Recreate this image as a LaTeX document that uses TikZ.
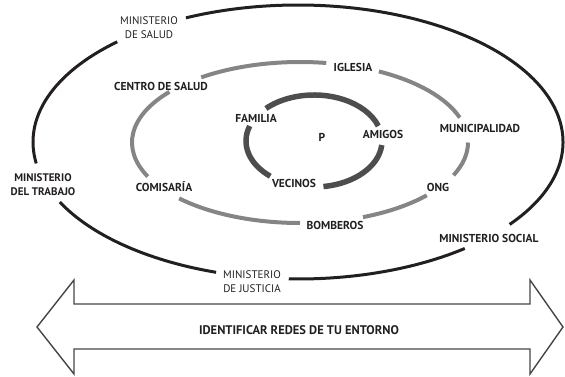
\documentclass[tikz,border=0pt]{standalone}
\usepackage{fontspec}
\setmainfont{PT Sans}
\usepackage{tikz}
\usetikzlibrary{calc,positioning}
\definecolor{ringOuter}{HTML}{231F20}
\definecolor{ringMiddle}{HTML}{858585}
\definecolor{ringInner}{HTML}{4D4D4F}
\definecolor{arrowLine}{HTML}{454545}
\tikzset{
myOuter/.style={
	draw=ringOuter, line width=3pt
}
, myMiddle/.style={
	draw=ringMiddle, line width=4pt
}
, myInner/.style={
	draw=ringInner, line width=5.5pt
}
% labels
, myMinistry/.style={
	inner sep=0pt, text=ringOuter, align=center,
	font=\fontsize{11}{14.5}\selectfont
}
, myLabel/.style={
	inner sep=0pt, text=ringOuter,
	text height=8pt, text depth=0pt,
	font=\fontsize{11.5}{14}\selectfont\bfseries
}
, myBanner/.style={
	draw=arrowLine, line width=1.4pt, line join=miter
}
}

\begin{document}
\begin{tikzpicture}[x=1pt,y=1pt]
	\useasboundingbox (0,0) rectangle (565,376);
	% centres
	\coordinate (Outer)  at (298,234);
	\coordinate (Middle) at (300,233.5);
	\coordinate (Inner)  at (314,235);
	% outer ring
	\draw[myOuter] ($(Outer)+(133:265 and 137)$) arc[start angle=133, end angle=189, x radius=265, y radius=137];
	\draw[myOuter] ($(Outer)+(206:265 and 137)$) arc[start angle=206, end angle=252, x radius=265, y radius=137];
	\draw[myOuter] ($(Outer)+(268:265 and 137)$) arc[start angle=268, end angle=309, x radius=265, y radius=137];
	\draw[myOuter] ($(Outer)+(323:265 and 137)$) arc[start angle=323, end angle=475, x radius=265, y radius=137];
	% middle ring
	\draw[myMiddle] ($(Middle)+(18:168 and 80.5)$) arc[start angle=18, end angle=62, x radius=168, y radius=80.5];
	\draw[myMiddle] ($(Middle)+(81:168 and 80.5)$) arc[start angle=81, end angle=126, x radius=168, y radius=80.5];
	\draw[myMiddle] ($(Middle)+(141:168 and 80.5)$) arc[start angle=141, end angle=205, x radius=168, y radius=80.5];
	\draw[myMiddle] ($(Middle)+(224:168 and 80.5)$) arc[start angle=224, end angle=270, x radius=168, y radius=80.5];
	\draw[myMiddle] ($(Middle)+(292:168 and 80.5)$) arc[start angle=292, end angle=319, x radius=168, y radius=80.5];
	\draw[myMiddle] ($(Middle)+(336:168 and 80.5)$) arc[start angle=336, end angle=360, x radius=168, y radius=80.5];
	% inner ring
	\draw[myInner] ($(Inner)+(19:68 and 46)$) arc[start angle=19, end angle=135, x radius=68, y radius=46];
	\draw[myInner] ($(Inner)+(161:68 and 46)$) arc[start angle=161, end angle=230, x radius=68, y radius=46];
	\draw[myInner] ($(Inner)+(278:68 and 46)$) arc[start angle=278, end angle=355, x radius=68, y radius=46];

	% outer labels
	\node[myMinistry] (Salud)    at (149,348.5) {MINISTERIO\\DE SALUD};
	\node[myMinistry] (Trabajo)  at (43,191.5)  {\bfseries MINISTERIO\\\bfseries DEL TRABAJO};
	\node[myMinistry] (Justicia) at (252,94.5)  {MINISTERIO\\DE JUSTICIA};
	\node[myLabel]    (Social)   at (489,138)   {MINISTERIO SOCIAL};
	% middle labels
	\node[myLabel] (Centro)    at (161,290) {CENTRO DE SALUD};
	\node[myLabel] (Iglesia)   at (353,309) {IGLESIA};
	\node[myLabel] (Muni)      at (480,248) {MUNICIPALIDAD};
	\node[myLabel] (Ong)       at (438,189) {ONG};
	\node[myLabel] (Bomberos)  at (335,151) {BOMBEROS};
	\node[myLabel] (Comisaria) at (164,189) {COMISARÍA};
	% inner labels
	\node[myLabel] (Familia) at (256,258) {FAMILIA};
	\node[myLabel] (P)       at (322,239) {P};
	\node[myLabel] (Amigos)  at (383,242) {AMIGOS};
	\node[myLabel] (Vecinos) at (294,193) {VECINOS};

	% double arrow
	\draw[myBanner] (37,49) -- (74,96) -- (74,72) -- (530,72) -- (530,96) -- (563,49)
		-- (530,2) -- (530,27) -- (74,27) -- (74,2) -- cycle;
	\node[myLabel, font=\fontsize{12.5}{14}\selectfont\bfseries] (Redes) at (299,46) {IDENTIFICAR REDES DE TU ENTORNO};
\end{tikzpicture}
\end{document}
